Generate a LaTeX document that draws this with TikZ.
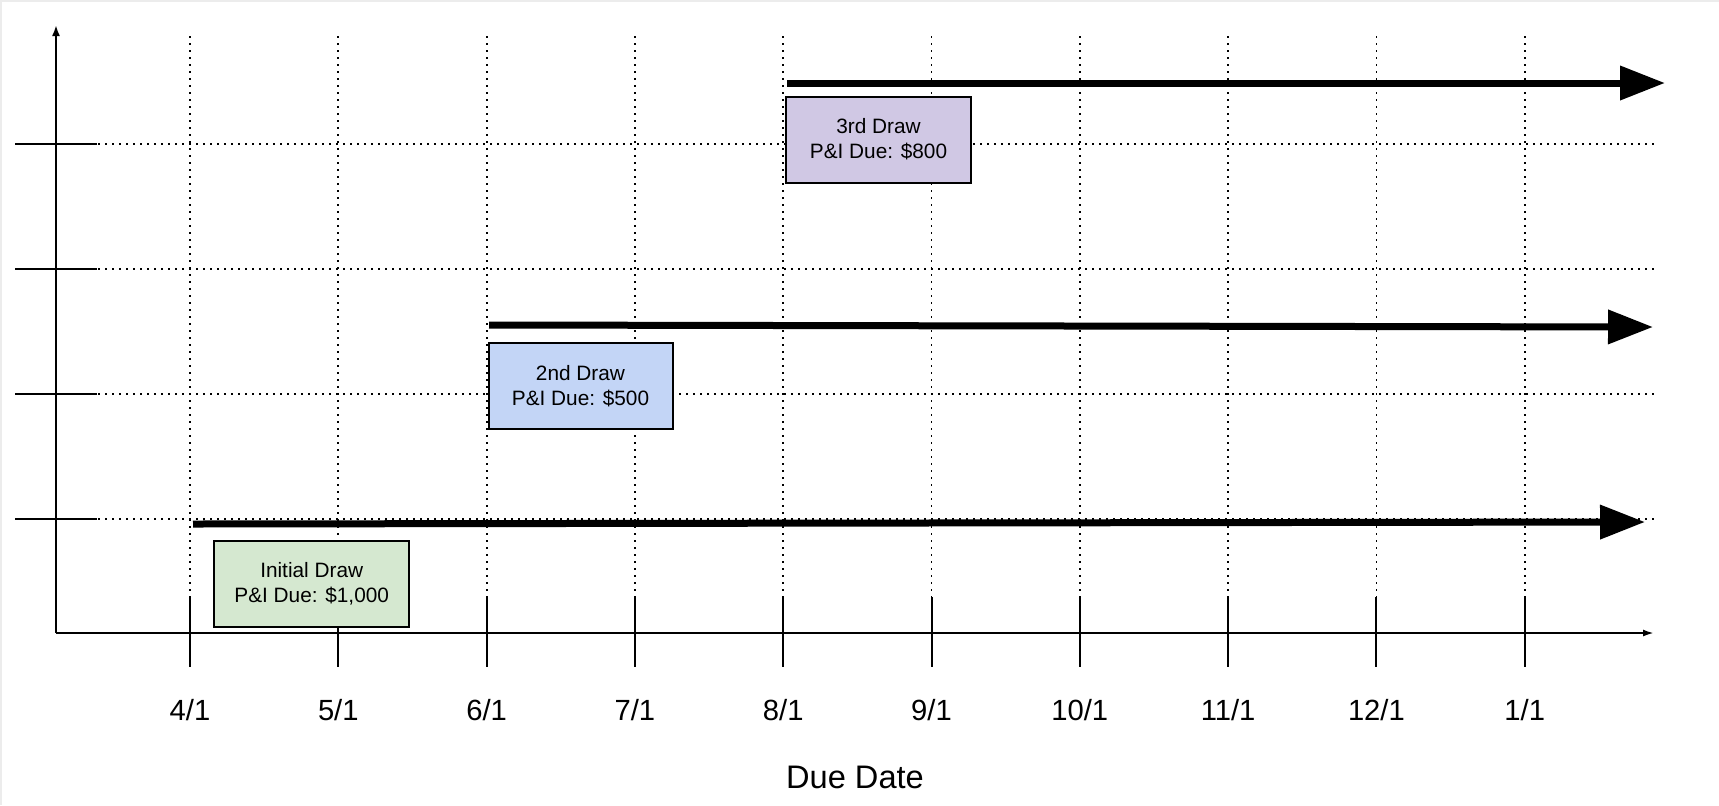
\documentclass[tikz,border=0pt]{standalone}
\usepackage{fontspec}
\setmainfont{Liberation Sans}
\usepackage{tikz,xcolor}
\usetikzlibrary{positioning,arrows.meta}

\definecolor{drawgreen}{HTML}{D5E8D0}
\definecolor{drawblue}{HTML}{C3D5F6}
\definecolor{drawpurple}{HTML}{D0C8E4}

\begin{document}
\begin{tikzpicture}[
        x=0.5pt, y=-0.5pt,
        axis/.style={draw, line width=1pt},
        grid/.style={draw, line width=0.9pt, dash pattern=on 0.9pt off 2.6pt},
        tickmark/.style={draw, line width=1pt},
        drawbox/.style={rectangle, draw, line width=1pt, minimum height=43pt, align=center, font=\fontsize{10.4}{12.5}\selectfont, inner sep=0pt},
        drawline/.style={draw, line width=3.5pt, -{Triangle[length=22.5pt, width=16.5pt]}},
        month/.style={anchor=base, font=\fontsize{14.6}{17}\selectfont}
    ]
        \useasboundingbox (0,0) rectangle (1719,805);

        % Frame
        \coordinate (TL) at (0.5,0.5);
        \coordinate (TR) at (1719,0.5);
        \coordinate (BL) at (0.5,805);
        \draw[gray!15, line width=1pt] (BL) -- (TL) -- (TR);

        % Define axes
        \coordinate (O) at (56,633);
        \coordinate (XEND) at (1654,633);
        \coordinate (YEND) at (56,25);

        % Horizontal grid lines and axis ticks
        \foreach \y [count=\k] in {144,269,394,519} {
            \coordinate (gl\k) at (56,\y);
            \coordinate (gr\k) at (1657,\y);
            \coordinate (tl\k) at (15,\y);
            \coordinate (tr\k) at (97,\y);
            \draw[grid] (gl\k) -- (gr\k);
            \draw[tickmark] (tl\k) -- (tr\k);
        }

        % Month grid lines, ticks and labels
        \foreach \m [count=\k from 0] in {4/1,5/1,6/1,7/1,8/1,9/1,10/1,11/1,12/1,1/1} {
            \coordinate (gt\k) at ({190+148.3*\k},36);
            \coordinate (tt\k) at ({190+148.3*\k},597);
            \coordinate (tb\k) at ({190+148.3*\k},667);
            \draw[grid] (gt\k) -- (tt\k);
            \draw[tickmark] (tt\k) -- (tb\k);
            \node[month] (m\k) at ({190+148.3*\k},720) {\m};
        }

        \draw[axis, -{Latex[length=5.5pt, width=4pt]}] (O) -- (YEND);
        \draw[axis, -{Latex[length=5.5pt, width=3.5pt]}] (O) -- (XEND);

        % Axis title
        \node[anchor=base, font=\fontsize{16.3}{19}\selectfont] (due) at (855,788) {Due Date};

        % Draws
        \node[drawbox, fill=drawgreen, minimum width=97.5pt] (initial) at (311.7,583.7) {Initial Draw\\P\&I Due: \$1,000};
        \node[drawbox, fill=drawblue, minimum width=92pt] (second) at (580.5,386.3) {2nd Draw\\P\&I Due: \$500};
        \node[drawbox, fill=drawpurple, minimum width=92.5pt] (third) at (878.5,139.5) {3rd Draw\\P\&I Due: \$800};

        % Draw periods
        \coordinate (d1s) at (193,524);
        \coordinate (d1e) at (1645,522);
        \coordinate (d2s) at (489,325);
        \coordinate (d2e) at (1653,327);
        \coordinate (d3s) at (787,83);
        \coordinate (d3e) at (1665,83);
        \draw[drawline] (d1s) -- (d1e);
        \draw[drawline] (d2s) -- (d2e);
        \draw[drawline] (d3s) -- (d3e);

    \end{tikzpicture}
\end{document}
